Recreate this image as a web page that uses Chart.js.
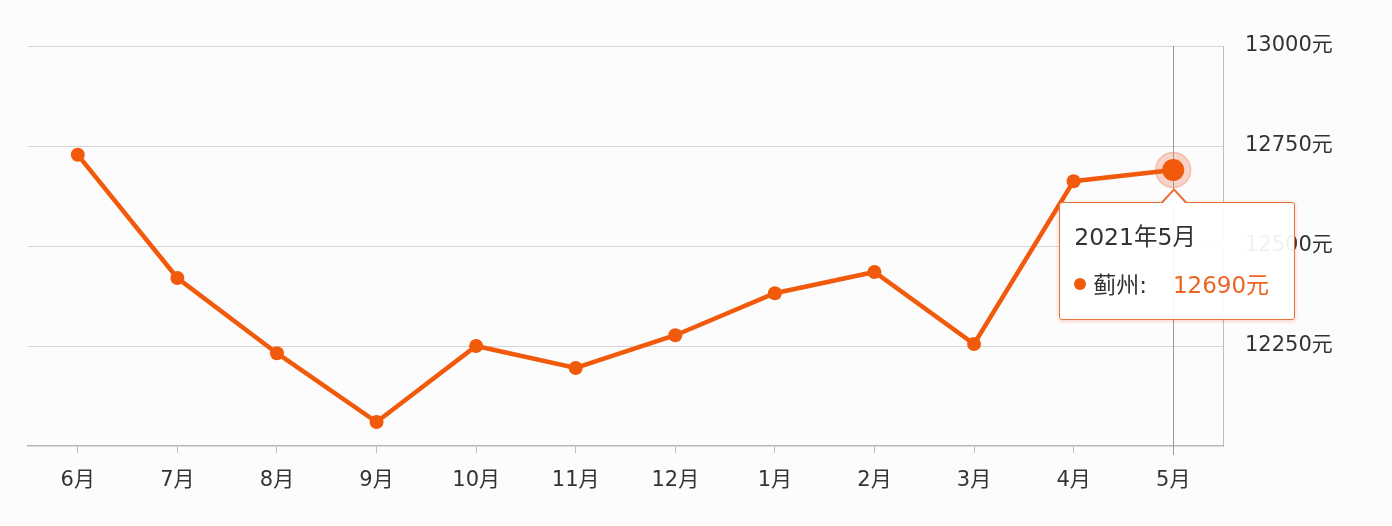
<!DOCTYPE html>
<html>
<head>
<meta charset="utf-8">
<script src="https://cdn.jsdelivr.net/npm/chart.js@4/dist/chart.umd.min.js"></script>
<style>
  html, body { margin: 0; padding: 0; background: #fdfcfd; }
  #wrap { position: relative; width: 1392px; height: 526px; }
  #tip {
    position: absolute; display: none; box-sizing: border-box;
    width: 236px; height: 118px; background: rgba(255,255,255,0.93);
    border: 1.5px solid #e8733a; border-radius: 3px;
    box-shadow: 0 1px 4px rgba(230,110,50,0.35);
    font-family: "DejaVu Sans", "Noto Sans CJK SC", sans-serif; color: #333;
  }
  #tip::before, #tip::after {
    content: ""; position: absolute; left: 101px; width: 0; height: 0;
    border-left: 13px solid transparent; border-right: 13px solid transparent;
  }
  #tip::before { top: -15px; border-bottom: 14px solid #e8733a; }
  #tip::after { top: -12px; left: 102.5px; border-left-width: 11.5px; border-right-width: 11.5px; border-bottom: 12px solid #fff; }
  #tip .t { position: absolute; left: 14px; top: 15px; font-size: 23.5px; }
  #tip .b { position: absolute; left: 14px; top: 63px; font-size: 23px; white-space: nowrap; }
  #tip .dot { display: inline-block; width: 12px; height: 12px; border-radius: 50%; background: #f05a0a; margin-right: 7px; vertical-align: 3px; }
  #tip .v { color: #ec6420; margin-left: 26px; }
</style>
</head>
<body>
<div id="wrap">
  <canvas id="c"></canvas>
  <div id="tip"><div class="t"></div><div class="b"></div></div>
</div>
<script>
const months = ['6月', '7月', '8月', '9月', '10月', '11月', '12月', '1月', '2月', '3月', '4月', '5月'];
const fullMonths = ['2020年6月', '2020年7月', '2020年8月', '2020年9月', '2020年10月', '2020年11月', '2020年12月',
  '2021年1月', '2021年2月', '2021年3月', '2021年4月', '2021年5月'];
const prices = [12728, 12420, 12232, 12060, 12250, 12195, 12277, 12382, 12435, 12255, 12662, 12690];
const seriesName = '蓟州';
const activeIndex = 11;

const orange = '#f05a0a';
const font = '"DejaVu Sans", "Noto Sans CJK SC", sans-serif';

// crosshair + halo behind the active point
const hoverDecor = {
  id: 'hoverDecor',
  beforeDatasetsDraw(chart) {
    const act = chart.getActiveElements();
    if (!act.length) return;
    const pt = act[0].element;
    const { ctx, chartArea } = chart;
    ctx.save();
    ctx.strokeStyle = '#9a9a9a';
    ctx.lineWidth = 1;
    ctx.beginPath();
    ctx.moveTo(Math.round(pt.x) + 0.5, chartArea.top);
    ctx.lineTo(Math.round(pt.x) + 0.5, chartArea.bottom + 9);
    ctx.stroke();
    ctx.restore();
  },
  afterDatasetsDraw(chart) {
    const act = chart.getActiveElements();
    if (!act.length) return;
    const pt = act[0].element;
    const { ctx } = chart;
    ctx.save();
    ctx.globalCompositeOperation = 'destination-over';
    ctx.fillStyle = 'rgba(240,120,80,0.3)';
    ctx.strokeStyle = 'rgba(230,110,70,0.35)';
    ctx.lineWidth = 1.5;
    ctx.beginPath();
    ctx.arc(pt.x, pt.y, 17.5, 0, Math.PI * 2);
    ctx.fill();
    ctx.stroke();
    ctx.restore();
  }
};

function externalTip(context) {
  const el = document.getElementById('tip');
  const tt = context.tooltip;
  if (tt.opacity === 0) { el.style.display = 'none'; return; }
  const i = tt.dataPoints[0].dataIndex;
  el.querySelector('.t').textContent = fullMonths[i];
  el.querySelector('.b').innerHTML = '<span class="dot"></span>' + seriesName + ':<span class="v">' + prices[i] + '元</span>';
  el.style.display = 'block';
  el.style.left = (tt.caretX - 114) + 'px';
  el.style.top = (tt.caretY + 32) + 'px';
}

const chart = new Chart(document.getElementById('c'), {
  type: 'line',
  data: {
    labels: months,
    datasets: [{
      label: seriesName,
      data: prices,
      borderColor: orange,
      backgroundColor: orange,
      borderWidth: 4.5,
      pointRadius: 7,
      pointBackgroundColor: orange,
      pointBorderWidth: 0,
      pointHoverRadius: 11,
      pointHoverBorderWidth: 0,
      pointHoverBackgroundColor: orange,
      tension: 0
    }]
  },
  options: {
    responsive: true,
    maintainAspectRatio: false,
    animation: false,
    events: [],
    layout: { padding: { top: 46, left: 28, right: 0, bottom: 0 } },
    plugins: {
      legend: { display: false },
      tooltip: { enabled: false, external: externalTip }
    },
    scales: {
      x: {
        offset: true,
        afterFit(scale) { scale.height = 80; },
        grid: { drawOnChartArea: false, drawTicks: true, tickLength: 7, color: '#bdbdbd' },
        border: { display: true, color: '#b8b8b8', width: 1.5 },
        ticks: { color: '#333', font: { family: font, size: 21 }, padding: 15 }
      },
      y: {
        position: 'right',
        min: 12000,
        max: 13000,
        afterFit(scale) { scale.width = 169; },
        grid: { drawTicks: false, color: '#d6d6d6' },
        border: { display: true, color: '#bdbdbd' },
        ticks: {
          stepSize: 250,
          padding: 22,
          color: '#333',
          font: { family: font, size: 21 },
          callback: v => v === 12000 ? null : v + '元'
        }
      }
    }
  },
  plugins: [hoverDecor]
});

const act = [{ datasetIndex: 0, index: activeIndex }];
chart.setActiveElements(act);
const p = chart.getDatasetMeta(0).data[activeIndex];
chart.tooltip.setActiveElements(act, { x: p.x, y: p.y });
chart.update();
</script>
</body>
</html>
